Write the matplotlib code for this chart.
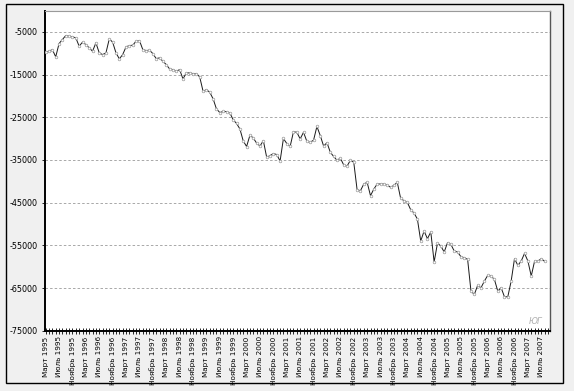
import matplotlib
matplotlib.use("Agg")
import matplotlib.pyplot as plt
from matplotlib.patches import Rectangle
from matplotlib.ticker import FixedLocator, MultipleLocator

# Monthly values, March 1995 .. August 2007
values = [
    -9700, -9540, -9150, -10860, -7740, -6800, -5860, -6020, -6170, -6400,
    -8360, -7420, -7970, -8750, -9540, -7580, -9930, -10320, -9930, -6640,
    -7420, -9930, -11330, -10320, -8520, -8210, -8130, -7190, -7030, -9150,
    -9380, -9300, -10080, -11260, -11100, -11880, -12660, -13680, -13840, -14230,
    -13840, -16030, -14620, -14620, -14780, -14780, -15560, -18920, -18530, -19150,
    -20700, -23050, -23900, -23640, -23700, -24000, -25600, -26460, -27750, -30560,
    -31860, -29200, -29860, -31070, -31740, -30490, -34400, -33970, -33500, -33740,
    -35260, -29980, -31160, -31840, -28400, -28520, -30080, -28520, -30670, -30870,
    -30360, -27160, -29300, -31760, -30950, -33210, -34190, -35090, -34580, -36180,
    -36450, -35050, -35560, -42000, -42200, -40640, -40250, -43380, -41810, -40640,
    -40640, -40640, -40880, -41420, -40950, -40250, -44000, -44550, -44940, -46660,
    -47440, -48850, -54000, -51650, -53450, -51880, -58900, -54500, -55170, -56570,
    -54380, -54780, -56340, -56570, -57670, -57900, -58290, -65720, -66510, -64390,
    -64940, -63380, -62050, -62200, -62990, -65720, -64940, -67050, -67050, -63380,
    -58140, -59700, -58690, -56890, -58690, -62200, -58690, -58690, -58140, -58760,
]
label_months = ["Март", "Июль", "Ноябрь"]
years = list(range(1995, 2008))
yticks = [-5000, -15000, -25000, -35000, -45000, -55000, -65000, -75000]

# Build x tick labels: every 4th month starting March 1995
tick_labels = []
for y in years:
    for m in label_months:
        tick_labels.append(f"{m} {y}")
tick_labels = tick_labels[:38]
tick_pos = [4 * k for k in range(len(tick_labels))]

plt.rcParams['axes.unicode_minus'] = False
plt.rcParams['font.family'] = ['DejaVu Sans']

W, H = 574, 391
fig = plt.figure(figsize=(W / 100, H / 100), dpi=100, facecolor='#f0f0f0')
ax = fig.add_axes([45 / W, 1 - 330.7 / H, (550 - 45) / W, (330.7 - 10.5) / H])
ax.set_facecolor('white')

x = list(range(len(values)))
ax.plot(x, values, color='#1a1a1a', lw=0.7, marker='o', markersize=1.9,
        mfc='white', mec='#9a9a9a', mew=0.5, zorder=3)

ax.set_xlim(-0.2, 150.6)
ax.set_ylim(-75000, 0)

ax.yaxis.set_major_locator(FixedLocator(yticks))
ax.set_yticklabels([str(v) for v in yticks], fontsize=5.8)
ax.grid(axis='y', color='#9a9a9a', linestyle=(0, (3, 2.5)), lw=0.6)

ax.xaxis.set_major_locator(FixedLocator(tick_pos))
ax.set_xticklabels(tick_labels, rotation=90, fontsize=5.2, va='top', ha='center')
ax.xaxis.set_minor_locator(MultipleLocator(1))
ax.tick_params(axis='x', which='both', direction='inout', length=4, width=0.6, pad=2)
ax.tick_params(axis='y', direction='out', length=2, width=0.6, pad=3)

for s in ['left', 'bottom']:
    ax.spines[s].set_color('black')
    ax.spines[s].set_linewidth(1.4)
ax.spines['top'].set_color('#9a9a9a')
ax.spines['top'].set_linewidth(0.8)
ax.spines['right'].set_color('#555555')
ax.spines['right'].set_linewidth(1.0)

ax.text(0.985, 0.015, "ЮГ", transform=ax.transAxes, ha='right', va='bottom',
        fontsize=6, color='#b0b0b0', style='italic')

fig.patches.append(Rectangle((6 / W, 1 - 383 / H), (563 - 6) / W, (383 - 4) / H,
                             transform=fig.transFigure, fill=False,
                             edgecolor='black', lw=1.0))

fig.savefig("out.png", dpi=100, facecolor=fig.get_facecolor())
